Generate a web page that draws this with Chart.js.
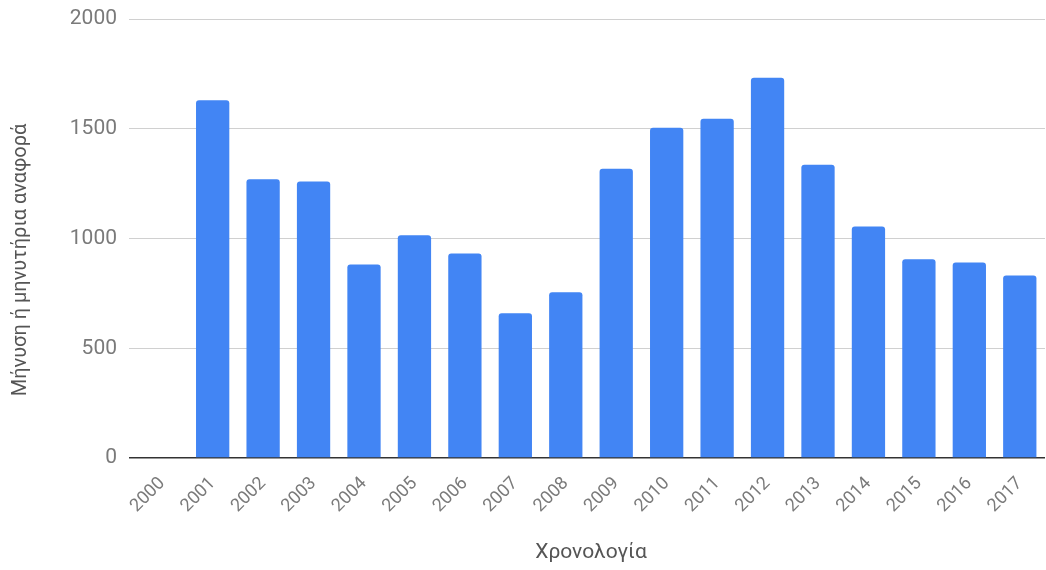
<!DOCTYPE html>
<html>
<head>
<meta charset="utf-8">
<script src="https://cdn.jsdelivr.net/npm/chart.js@4"></script>
<style>
  html, body { margin: 0; padding: 0; background: #fff; }
  #wrap { width: 1046px; height: 570px; }
</style>
</head>
<body>
<div id="wrap"><canvas id="chart" width="1046" height="570"></canvas></div>
<script>
const years = ["2000", "2001", "2002", "2003", "2004", "2005", "2006", "2007", "2008",
  "2009", "2010", "2011", "2012", "2013", "2014", "2015", "2016", "2017"];
const reports = [0, 1630, 1270, 1260, 882, 1015, 932, 660, 755,
  1318, 1505, 1545, 1732, 1336, 1055, 905, 891, 832];
const yTicks = [0, 500, 1000, 1500, 2000];
const yTitle = "Μήνυση ή μηνυτήρια αναφορά";
const xTitle = "Χρονολογία";

const FONT = "Roboto, 'Noto Sans', sans-serif";
const gridColor = (ctx) => (ctx.tick && ctx.tick.value === 0 ? "#333333" : "#d0d0d0");

// y title drawn by hand so it can sit a little below the axis centre, like the original
const yTitlePlugin = {
  id: "yTitle",
  afterDraw(chart) {
    const c = chart.ctx;
    c.save();
    c.translate(21, 260);
    c.rotate(-Math.PI / 2);
    c.font = "20px " + FONT;
    c.fillStyle = "#555555";
    c.textAlign = "center";
    c.textBaseline = "middle";
    c.fillText(yTitle, 0, 0);
    c.restore();
  },
};

new Chart(document.getElementById("chart"), {
  type: "bar",
  data: {
    labels: years,
    datasets: [{
      label: yTitle,
      data: reports,
      backgroundColor: "#4285f4",
      borderRadius: 3,
      categoryPercentage: 1,
      barPercentage: 0.66,
    }],
  },
  options: {
    responsive: false,
    animation: false,
    layout: { padding: { top: 19, right: 1, left: 0, bottom: 0 } },
    plugins: { legend: { display: false }, tooltip: { enabled: false } },
    scales: {
      x: {
        offset: true,
        grid: { display: false },
        border: { display: false },
        ticks: {
          color: "#7a7a7a",
          font: { family: FONT, size: 18 },
          minRotation: 45,
          maxRotation: 45,
          padding: 7,
          autoSkip: false,
        },
        title: {
          display: true,
          text: xTitle,
          color: "#555555",
          font: { family: FONT, size: 21 },
          padding: { top: 0, bottom: 5 },
        },
        afterFit: (scale) => { scale.height = 112; },
      },
      y: {
        min: 0,
        max: 2000,
        afterBuildTicks: (scale) => { scale.ticks = yTicks.map((v) => ({ value: v })); },
        grid: {
          color: gridColor,
          tickColor: gridColor,
          lineWidth: (ctx) => (ctx.tick && ctx.tick.value === 0 ? 1.5 : 1),
          drawTicks: true,
          tickLength: 8,
        },
        border: { display: false },
        ticks: {
          color: "#7a7a7a",
          font: { family: FONT, size: 21 },
          padding: 12,
          callback: (v) => String(v),
        },
        afterFit: (scale) => {
          scale.width = 137;
          scale.paddingTop = 0;
          scale.paddingBottom = 0;
        },
      },
    },
  },
  plugins: [yTitlePlugin],
});
</script>
</body>
</html>
